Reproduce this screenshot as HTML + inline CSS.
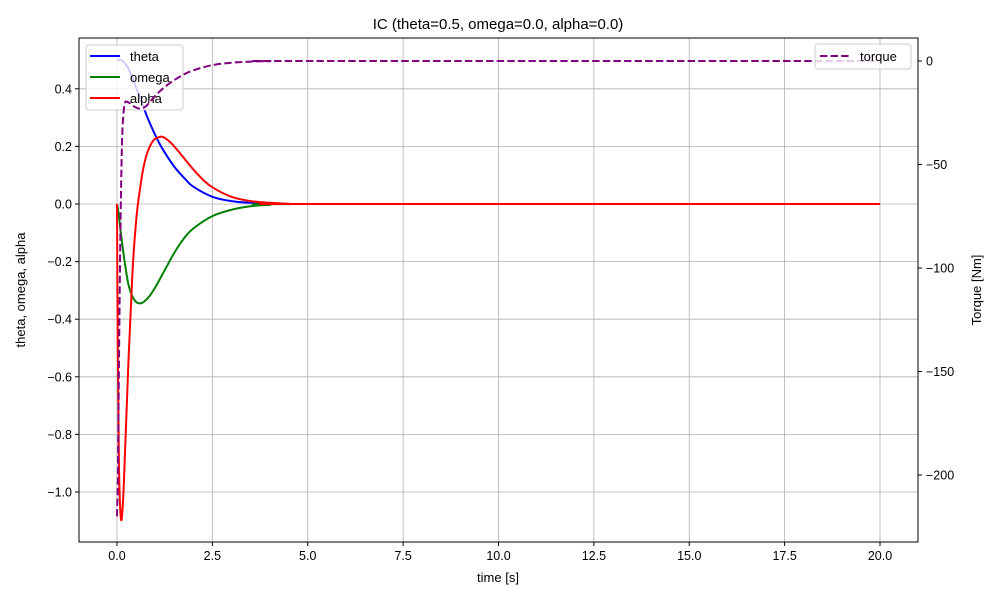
<!DOCTYPE html>
<html><head><meta charset="utf-8"><style>
body{margin:0;background:#fff;}
svg{font-family:"Liberation Sans","DejaVu Sans",sans-serif;}
</style></head><body>
<svg id="s" width="1000" height="600" xmlns="http://www.w3.org/2000/svg">
<rect width="1000" height="600" fill="#fff"/>
<g id="grid" stroke="#b0b0b0" stroke-width="0.8"></g>
<g id="curves" fill="none" stroke-width="2" stroke-linejoin="round"></g>
<rect x="79" y="38" width="839" height="504" fill="none" stroke="#000" stroke-width="1"/>
<g id="ticks" font-size="12.5" fill="#000"></g>
<text x="498" y="29" font-size="15" text-anchor="middle">IC (theta=0.5, omega=0.0, alpha=0.0)</text>
<text x="498" y="582" font-size="13" text-anchor="middle">time [s]</text>
<text transform="translate(25,290) rotate(-90)" font-size="13" text-anchor="middle">theta, omega, alpha</text>
<text transform="translate(981,290) rotate(-90)" font-size="13" text-anchor="middle">Torque [Nm]</text>
<g font-size="13">
<rect x="86" y="45" width="97" height="65" rx="3" fill="#fff" fill-opacity="0.8" stroke="#ccc"/>
<line x1="90" y1="56" x2="120" y2="56" stroke="blue" stroke-width="2"/><text x="130" y="61">theta</text>
<line x1="90" y1="77" x2="120" y2="77" stroke="green" stroke-width="2"/><text x="130" y="82">omega</text>
<line x1="90" y1="98" x2="120" y2="98" stroke="red" stroke-width="2"/><text x="130" y="103">alpha</text>
</g>
<g id="curves2" fill="none" stroke-width="2" stroke-linejoin="round"></g>
<g font-size="13">
<rect x="815" y="44" width="96" height="25" rx="3" fill="#fff" fill-opacity="0.8" stroke="#ccc"/>
<line x1="820" y1="56" x2="850" y2="56" stroke="purple" stroke-width="2" stroke-dasharray="7.4,3.2"/><text x="860" y="61">torque</text>
</g>
</svg>
<script>
var NS="http://www.w3.org/2000/svg";
function X(t){return 117+t*38.15;}
function Y(v){return 204-v*288;}
function YR(v){return 61-v*2.07;}
function el(p,n,a){var e=document.createElementNS(NS,n);for(var k in a)e.setAttribute(k,a[k]);document.getElementById(p).appendChild(e);return e;}
for(var i=0;i<=8;i++){var t=i*2.5,x=X(t);el("grid","line",{x1:x,y1:38,x2:x,y2:542});
el("ticks","line",{x1:x,y1:542,x2:x,y2:546,stroke:"#000"});
var tx=el("ticks","text",{x:x,y:560,"text-anchor":"middle"});tx.textContent=t.toFixed(1);}
for(var i=-5;i<=2;i++){var v=i*0.2,y=Y(v);el("grid","line",{x1:79,y1:y,x2:918,y2:y});
el("ticks","line",{x1:75,y1:y,x2:79,y2:y,stroke:"#000"});
var tx=el("ticks","text",{x:72,y:y+4.5,"text-anchor":"end"});tx.textContent=(Math.abs(v)<1e-9?"0.0":(v<0?"\u2212"+(-v).toFixed(1):v.toFixed(1)));}
for(var i=0;i<=4;i++){var v=-50*i,y=YR(v);
el("ticks","line",{x1:918,y1:y,x2:922,y2:y,stroke:"#000"});
var tx=el("ticks","text",{x:926,y:y+4.5});tx.textContent=(v<0?"\u2212"+(-v):"0");}
function path(g,pts,f,c,dash){
var P=pts.map(function(p){return [X(p[0]),f(p[1])];});
var d="M"+P[0][0].toFixed(1)+","+P[0][1].toFixed(1);
for(var i=0;i<P.length-1;i++){var p0=P[Math.max(0,i-1)],p1=P[i],p2=P[i+1],p3=P[Math.min(P.length-1,i+2)];
var c1=[p1[0]+(p2[0]-p0[0])/6,p1[1]+(p2[1]-p0[1])/6],c2=[p2[0]-(p3[0]-p1[0])/6,p2[1]-(p3[1]-p1[1])/6];
d+="C"+c1[0].toFixed(1)+","+c1[1].toFixed(1)+" "+c2[0].toFixed(1)+","+c2[1].toFixed(1)+" "+p2[0].toFixed(1)+","+p2[1].toFixed(1);}
var a={d:d,stroke:c};if(dash)a["stroke-dasharray"]="7.4,3.2";el(g,"path",a);}
var th=[[0,0.5],[0.1,0.5],[0.2,0.49],[0.3,0.47],[0.4,0.44],[0.6,0.37],[0.8,0.3],[1.0,0.24],[1.2,0.19],[1.5,0.13],[1.8,0.085],[2.0,0.06],[2.5,0.025],[3,0.01],[3.5,0.004],[4,0.001],[5,0],[20,0]];
var om=[[0,0],[0.05,-0.04],[0.1,-0.1],[0.2,-0.2],[0.3,-0.28],[0.4,-0.32],[0.5,-0.34],[0.6,-0.345],[0.7,-0.34],[0.85,-0.32],[1.0,-0.29],[1.25,-0.23],[1.5,-0.17],[1.75,-0.12],[2.0,-0.085],[2.5,-0.042],[3,-0.02],[3.5,-0.008],[4,-0.003],[5,0],[20,0]];
var al=[[0,0],[0.02,-0.5],[0.05,-0.9],[0.1,-1.09],[0.15,-1.05],[0.2,-0.9],[0.3,-0.55],[0.4,-0.25],[0.5,-0.06],[0.6,0.05],[0.7,0.13],[0.8,0.18],[0.95,0.22],[1.1,0.232],[1.2,0.233],[1.35,0.22],[1.5,0.2],[1.75,0.16],[2.0,0.12],[2.25,0.085],[2.5,0.058],[3,0.025],[3.5,0.01],[4,0.004],[4.5,0.001],[5,0],[20,0]];
var tq=[[0,-220],[0.03,-190],[0.06,-130],[0.1,-70],[0.14,-35],[0.2,-21],[0.3,-20],[0.45,-22],[0.6,-23],[0.75,-22],[0.9,-19],[1.1,-15],[1.4,-10.5],[1.7,-7],[2.0,-4.5],[2.5,-2],[3,-0.8],[3.5,-0.3],[4,-0.1],[5,0],[20,0]];
path("curves",th,Y,"blue");path("curves",om,Y,"green");path("curves",al,Y,"red");path("curves2",tq,YR,"purple",true);
</script>
</body></html>
